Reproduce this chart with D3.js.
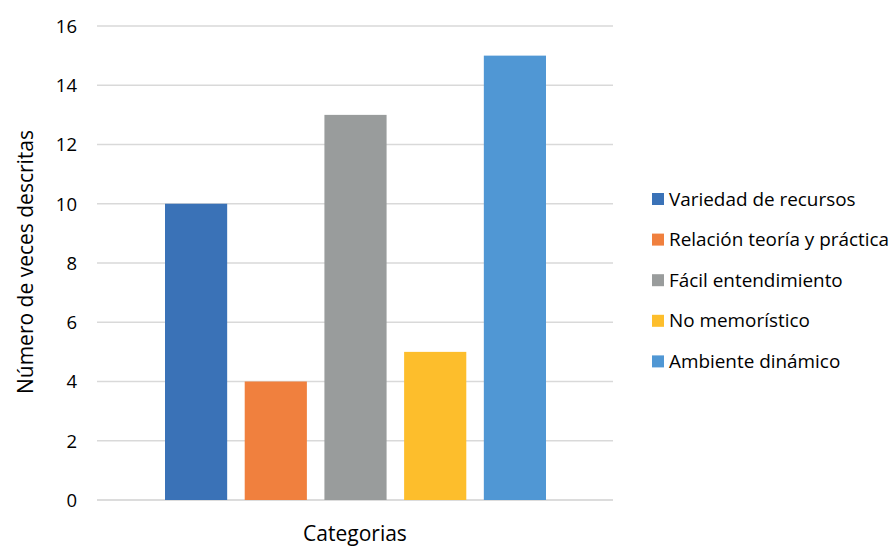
<!DOCTYPE html>
<html><head><meta charset="utf-8">
<script src="https://cdn.jsdelivr.net/npm/d3@7"></script>
<style>body{margin:0;background:#fff}svg{display:block}text{font-family:"Open Sans",sans-serif;fill:#000}</style>
</head><body>
<script>
const categories = ["Variedad de recursos","Relación teoría y práctica","Fácil entendimiento","No memorístico","Ambiente dinámico"];
const values = [10,4,13,5,15];
const colors = ["#3A72B7","#F0803E","#999C9C","#FDBE2C","#5097D4"];
const yTicks = [0,2,4,6,8,10,12,14,16];

const W=892,H=546;
const svg=d3.select("body").append("svg").attr("width",W).attr("height",H);
const y=d3.scaleLinear().domain([0,16]).range([500,26]);
const x=d3.scaleBand().domain(categories).range([165,546]).paddingInner(0.22);
const gx0=97,gx1=613;

const grid=svg.append("g");
grid.selectAll("line").data(yTicks).join("line")
  .attr("x1",gx0).attr("x2",gx1).attr("y1",d=>y(d)).attr("y2",d=>y(d))
  .attr("stroke",d=>d===0?"#D0D0D0":"#D9D9D9").attr("stroke-width",1.3);

const yAxis=svg.append("g").attr("transform","translate(77,0)")
  .call(d3.axisLeft(y).tickValues(yTicks).tickSize(0).tickPadding(0));
yAxis.select(".domain").remove();
yAxis.selectAll("text").style("font-size","18.5px").attr("font-family","'Open Sans',sans-serif").attr("fill","#000").attr("dy","0.35em");

svg.append("g").selectAll("rect").data(categories).join("rect")
  .attr("x",d=>x(d)).attr("width",x.bandwidth())
  .attr("y",(d,i)=>y(values[i])).attr("height",(d,i)=>y(0)-y(values[i]))
  .attr("fill",(d,i)=>colors[i]);

svg.append("text").attr("transform","translate(26,262) rotate(-90)")
  .attr("text-anchor","middle").attr("dy","0.35em").style("font-size","21px").text("Número de veces descritas");
svg.append("text").attr("x",355).attr("y",534).attr("text-anchor","middle").attr("dy","0.35em")
  .style("font-size","21px").text("Categorias");

const leg=svg.append("g").selectAll("g").data(categories).join("g")
  .attr("transform",(d,i)=>`translate(652,${199+i*40.6})`);
leg.append("rect").attr("x",0).attr("y",-6).attr("width",12).attr("height",12).attr("fill",(d,i)=>colors[i]);
leg.append("text").attr("x",17).attr("dy","0.35em").style("font-size","18.9px").text(d=>d);
</script>
</body></html>
